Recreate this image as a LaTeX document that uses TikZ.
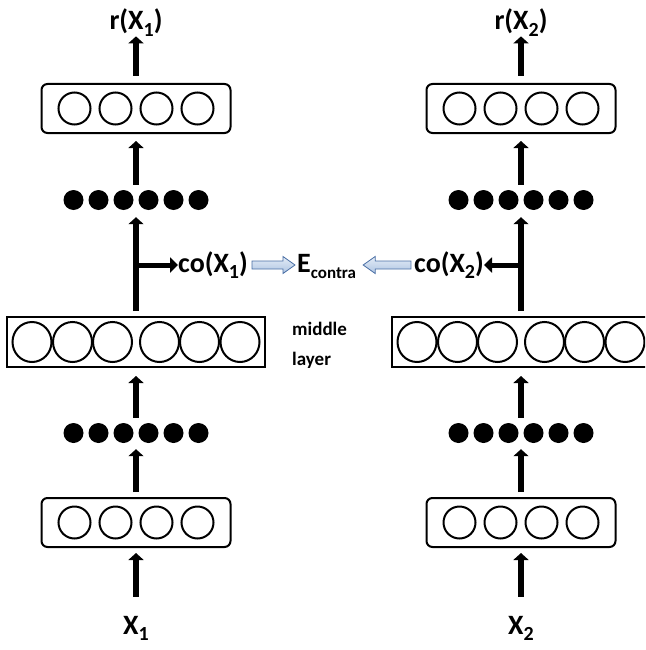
\documentclass[tikz,border=0pt]{standalone}
\usepackage{fontspec}
\setmainfont{Carlito}
\usetikzlibrary{arrows.meta,calc}
\definecolor{blockfill}{HTML}{C6D9F1}
\definecolor{blocktop}{HTML}{E4ECF7}
\definecolor{blockedge}{HTML}{4A6FA5}
\newcommand{\lowsub}[2]{\raisebox{-0.22em}{\fontsize{#1}{#1}\selectfont #2}}

\begin{document}
\begin{tikzpicture}[x=1pt,y=-1pt,
    font=\fontsize{28}{30}\selectfont\bfseries,
    uparrow/.style={line width=6pt,-{Triangle[length=7pt,width=15pt]},shorten <=5pt,shorten >=6pt},
    sidearrow/.style={line width=5pt,-{Triangle[length=8pt,width=15pt]}},
    layerbox/.style={draw,line width=2pt,rounded corners=6pt,minimum width=189pt,minimum height=49pt,inner sep=0pt},
    midbox/.style={draw,line width=2pt,minimum width=258pt,minimum height=50pt,inner sep=0pt},
    dotrow/.style={minimum width=145pt,minimum height=20pt,inner sep=0pt},
    blockarrow/.style={draw=blockedge,line width=0.8pt,top color=blocktop,bottom color=blockfill!80!blockedge},
    lbl/.style={inner sep=0pt}]
    \clip (0,0) rectangle (645,650);
    \useasboundingbox (0,0) rectangle (645,650);
    \foreach \cx[count=\i] in {136,521}{
        % layers, bottom to top
        \node[lbl,anchor=base] (x\i) at (\cx,634) {X\lowsub{20}{\i}};
        \node[layerbox] (in\i) at (\cx,522.5) {};
        \node[dotrow] (dotsA\i) at (\cx,433) {};
        \node[midbox] (mid\i) at (\cx,342) {};
        \node[dotrow] (dotsB\i) at (\cx,200) {};
        \node[layerbox] (out\i) at (\cx,108.5) {};
        \node[lbl,anchor=base] (r\i) at (\cx,30) {r(X\lowsub{20}{\i})};
        % units
        \foreach \k in {-1.5,-0.5,0.5,1.5}{
            \draw[line width=2pt] ($(in\i.center)+(\k*41,0)$) circle (16);
            \draw[line width=2pt] ($(out\i.center)+(\k*41,0)$) circle (16);
        }
        \foreach \k in {-104,-63.5,-23.5,23.5,63.5,104}{
            \draw[line width=2pt] ($(mid\i.center)+(\k,0)$) ellipse (19.5 and 20);
        }
        \foreach \k in {-2.5,...,2.5}{
            \fill ($(dotsA\i.center)+(\k*25,0)$) circle (10);
            \fill ($(dotsB\i.center)+(\k*25,0)$) circle (10);
        }
        % connections
        \draw[uparrow,shorten <=19pt,shorten >=5pt] (x\i.north) -- (in\i.south);
        \draw[uparrow] (in\i.north) -- (dotsA\i.south);
        \draw[uparrow,shorten >=8pt] (dotsA\i.north) -- (mid\i.south);
        \draw[uparrow,shorten >=7pt] (mid\i.north) -- (dotsB\i.south);
        \draw[uparrow,shorten >=7pt] (dotsB\i.north) -- (out\i.south);
        \draw[uparrow,shorten <=7pt,shorten >=0pt] (out\i.north) -- (r\i.south);
        \coordinate (br\i) at (\cx,265);
        \ifnum\i=1
            \node[lbl,anchor=west] (co\i) at (178,265) {co(X\lowsub{20}{\i})};
            \draw[sidearrow] (br\i) -- (co\i.west);
        \else
            \node[lbl,anchor=east] (co\i) at (484,265) {co(X\lowsub{20}{\i})};
            \draw[sidearrow] (br\i) -- (co\i.east);
        \fi
    }
    \node[lbl,anchor=base west] (E) at (297,272) {E\lowsub{17}{contra}};
    \node[lbl,anchor=north west,align=left,font=\fontsize{19}{30}\selectfont\bfseries] (midlbl) at (292,322) {middle\\layer};
    % block arrows into E
    \draw[blockarrow] let \p1=([xshift=4pt]co1.east), \p2=([xshift=-2pt]E.west) in
        (\x1,\y1+4pt) -- (\x2-12pt,\y1+4pt) -- (\x2-12pt,\y1+8.5pt) -- (\x2,\y1)
        -- (\x2-12pt,\y1-8.5pt) -- (\x2-12pt,\y1-4pt) -- (\x1,\y1-4pt) -- cycle;
    \draw[blockarrow] let \p1=([xshift=-3pt]co2.west), \p2=([xshift=7pt]E.east) in
        (\x1,\y1+4pt) -- (\x2+12pt,\y1+4pt) -- (\x2+12pt,\y1+8.5pt) -- (\x2,\y1)
        -- (\x2+12pt,\y1-8.5pt) -- (\x2+12pt,\y1-4pt) -- (\x1,\y1-4pt) -- cycle;
\end{tikzpicture}
\end{document}
